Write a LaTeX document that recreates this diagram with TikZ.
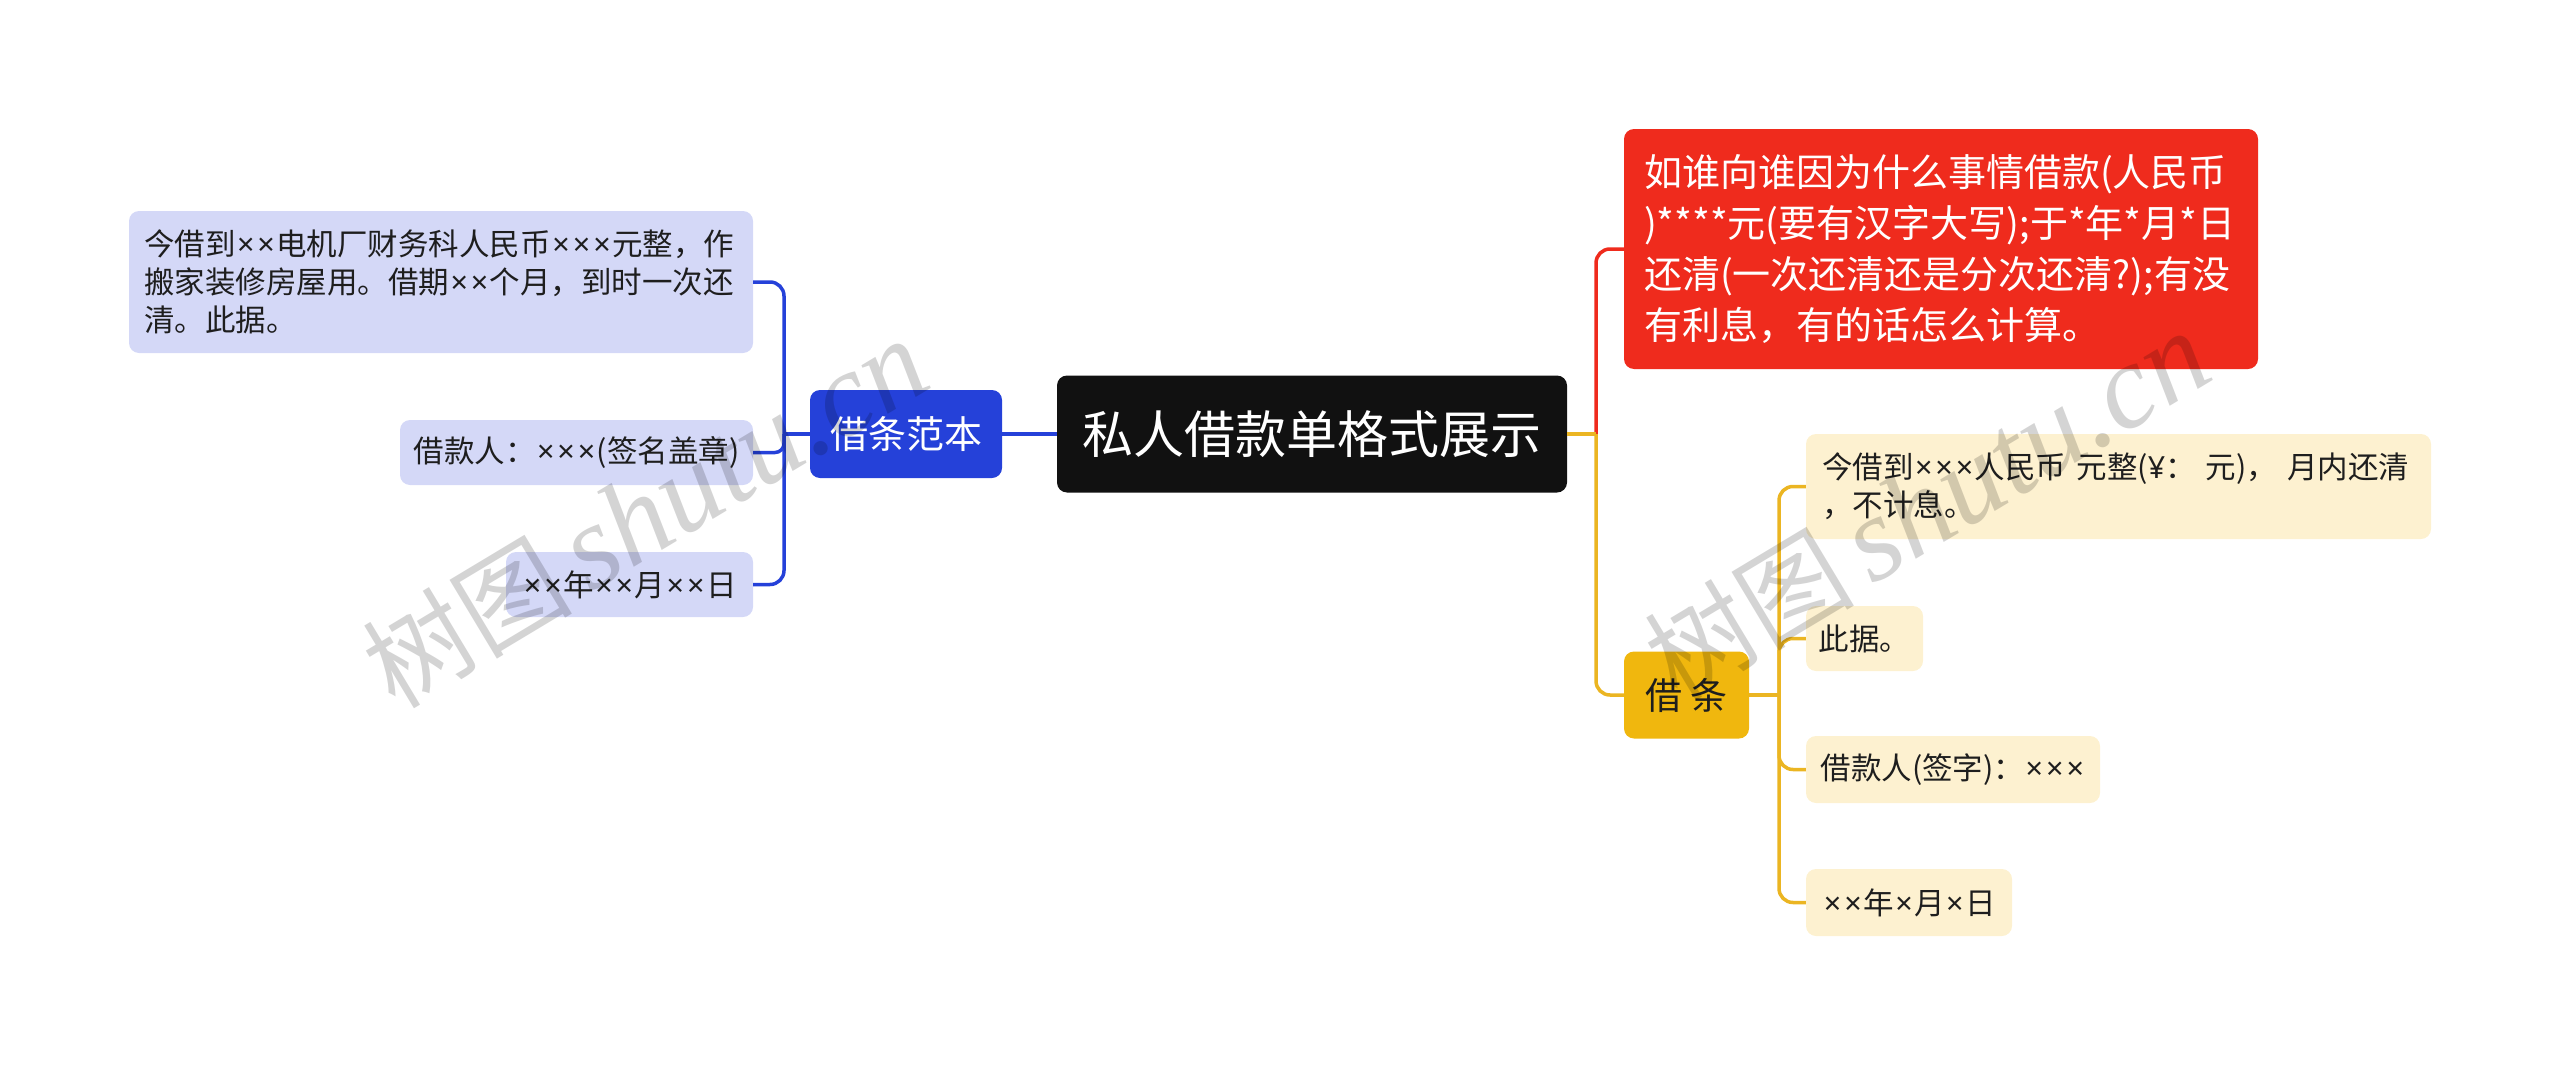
\documentclass[tikz,border=0pt]{standalone}
\usepackage{fontspec}
\setmainfont{Noto Sans CJK SC}
\newfontfamily\wmlatin{Liberation Serif}
\newfontfamily\latinf{Noto Sans}
\newcommand\xm{{\kern1.5pt\latinf ×\kern1.5pt}}
\newcommand\yen{{\latinf ¥}}
\definecolor{rootc}{HTML}{111111}
\definecolor{bluec}{HTML}{2541D9}
\definecolor{blueleaf}{HTML}{D4D8F7}
\definecolor{redc}{HTML}{EF2B1D}
\definecolor{yelc}{HTML}{F0B70E}
\definecolor{yelline}{HTML}{EBB522}
\definecolor{yelleaf}{HTML}{FDF1D0}
\definecolor{leaftext}{HTML}{1E1E1E}
\tikzset{
  box/.style={rounded corners=10pt, inner sep=0pt, anchor=center},
  leafb/.style={box, fill=blueleaf, text=leaftext, font=\fontsize{30.5}{38}\selectfont},
  leafy/.style={box, fill=yelleaf, text=leaftext, font=\fontsize{30.5}{38}\selectfont},
  bline/.style={draw=bluec, line width=3.5pt},
  rline/.style={draw=redc, line width=3.5pt},
  yline/.style={draw=yelline, line width=3.5pt},
  wmark/.style={text=black, opacity=0.17, rotate=31, anchor=center}
}
\begin{document}
\begin{tikzpicture}[x=1pt, y=-1pt]
\useasboundingbox (0,0) rectangle (2560,1065);
% root
\node[box, fill=rootc, text=white, minimum width=510pt, minimum height=117pt,
      font=\fontsize{51}{60}\selectfont] (root) at (1312,434) {私人借款单格式展示};
% blue branch
\node[box, fill=bluec, text=white, minimum width=192pt, minimum height=88pt,
      font=\fontsize{38}{44}\selectfont] (bn) at (906,434) {借条范本};
\node[leafb, minimum width=624pt, minimum height=142pt, text width=594pt, align=left, inner xsep=15pt] (l1) at (441,282)
  {今借到\xm\xm 电机厂财务科人民币\xm\xm\xm 元整，作\\搬家装修房屋用。借期\xm\xm 个月，到时一次还\\清。此据。};
\node[leafb, minimum width=353pt, minimum height=65pt] (l2) at (576.5,452.5) {借款人：\xm\xm\xm(签名盖章)};
\node[leafb, minimum width=247pt, minimum height=65pt] (l3) at (629.5,584.5) {\xm\xm 年\xm\xm 月\xm\xm 日};
% red node
\node[box, fill=redc, text=white, minimum width=634pt, minimum height=240pt, text width=594pt, align=left, inner xsep=20pt,
      font=\fontsize{38}{51}\selectfont] (rd) at (1941,249)
  {如谁向谁因为什么事情借款(人民币\\)****元(要有汉字大写);于*年*月*日\\还清(一次还清还是分次还清?);有没\\有利息，有的话怎么计算。};
% yellow branch
\node[box, fill=yelc, text=leaftext, minimum width=125pt, minimum height=87pt,
      font=\fontsize{37}{44}\selectfont] (yn) at (1686.5,695) {借 条};
\node[leafy, minimum width=625pt, minimum height=105pt, text width=593pt, align=left, inner xsep=16pt] (y1) at (2118.5,486.5)
  {今借到\xm\xm\xm 人民币 元整(\yen：\ 元)，\ 月内还清\\，不计息。};
\node[leafy, minimum width=117pt, minimum height=65pt] (y2) at (1864.5,638.5) {此据。};
\node[leafy, minimum width=294pt, minimum height=67pt] (y3) at (1953,769.5) {借款人(签字)：\xm\xm\xm};
\node[leafy, minimum width=206pt, minimum height=67pt] (y4) at (1909,902.5) {\xm\xm 年\xm 月\xm 日};
% connector junctions
\coordinate (bt) at (784,434);
\coordinate (rt) at (1596,434);
\coordinate (yt) at (1779,695);
% connectors
\draw[bline] (root.west) -- (bn.east);
\draw[bline] (bn.west) -- (bt);
\draw[bline, rounded corners=14pt] (bt) |- (l1.east);
\draw[bline, rounded corners=9pt] (bt) |- (l2.east);
\draw[bline, rounded corners=14pt] (bt) |- (l3.east);
\draw[rline, rounded corners=14pt] (rt) |- (rd.west);
\draw[yline, rounded corners=14pt] (rt) |- (yn.west);
\draw[yline] (root.east) -- (rt);
\draw[yline] (yn.east) -- (yt);
\draw[yline, rounded corners=14pt] (yt) |- (y1.west);
\draw[yline, rounded corners=14pt] (yt) |- (y2.west);
\draw[yline, rounded corners=14pt] (yt) |- (y3.west);
\draw[yline, rounded corners=14pt] (yt) |- (y4.west);
% watermarks
\node[wmark] (wm1) at (645,514) {\fontsize{105}{110}\selectfont 树图\,{\wmlatin\itshape\fontsize{120}{120}\selectfont shutu.cn}};
\node[wmark] (wm2) at (1927,506) {\fontsize{105}{110}\selectfont 树图\,{\wmlatin\itshape\fontsize{120}{120}\selectfont shutu.cn}};
\end{tikzpicture}
\end{document}
